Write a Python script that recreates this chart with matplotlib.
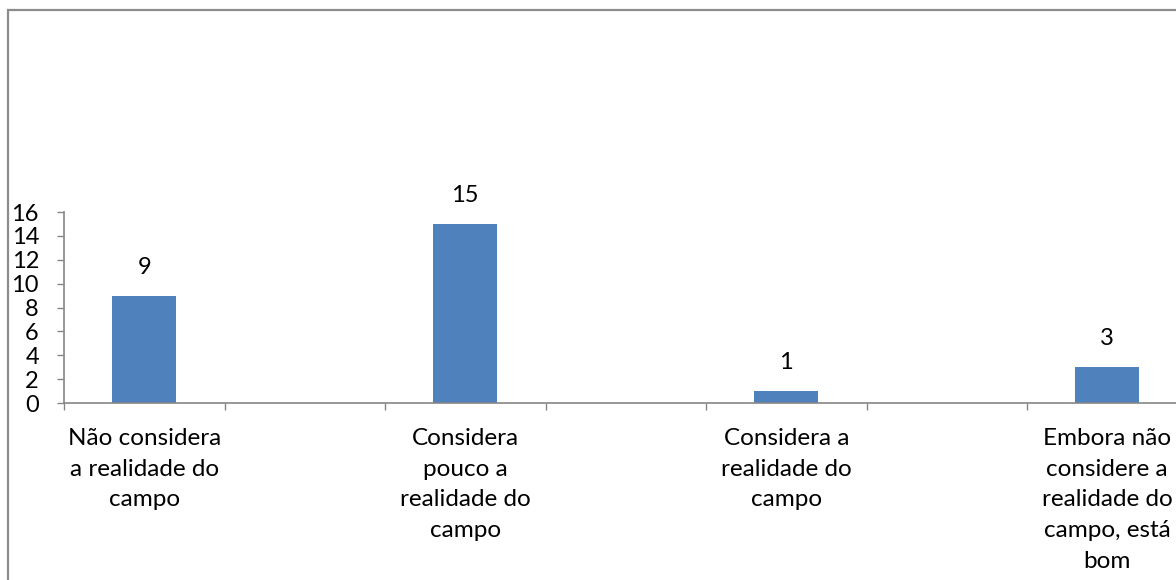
import matplotlib.pyplot as plt
from matplotlib.patches import Rectangle

# dados (categorias intercaladas com posições vazias, como no original)
categorias = ["Não considera\na realidade do\ncampo", "",
              "Considera\npouco a\nrealidade do\ncampo", "",
              "Considera a\nrealidade do\ncampo", "",
              "Embora não\nconsidere a\nrealidade do\ncampo, está\nbom", ""]
valores = [9, 0, 15, 0, 1, 0, 3, 0]
rotulos = ["9", "", "15", "", "1", "", "3", ""]

plt.rcParams['font.family'] = ['Lato', 'DejaVu Sans']

fig = plt.figure(figsize=(11.76, 5.8), dpi=100)
# eixo mais largo que a figura (cortado à direita, como no original)
ax = fig.add_axes([64 / 1176, 1 - 403 / 580, (8 * 160.5) / 1176, (403 - 212) / 580])

x = list(range(len(categorias)))
barras = ax.bar(x, valores, width=0.4, color='#4F81BD', zorder=2)
for b, v, r in zip(barras, valores, rotulos):
    if r:
        ax.text(b.get_x() + b.get_width() / 2, v + 1.5, r, ha='center', va='bottom',
                fontsize=17, color='black')

ax.set_xlim(-0.5, len(categorias) - 0.5)
ax.set_ylim(0, 16)
ax.set_yticks(range(0, 17, 2))
ax.tick_params(axis='y', labelsize=17, length=5, width=1, color='#868686', pad=13)

ax.set_xticks([i - 0.5 for i in range(len(categorias) + 1)])
ax.set_xticklabels([])
ax.tick_params(axis='x', length=5, width=1, color='#868686')
for i, c in enumerate(categorias):
    if c:
        ax.text(i, -2.1, c, ha='center', va='top', fontsize=17.5, linespacing=1.57,
                clip_on=False)

for s in ['top', 'right']:
    ax.spines[s].set_visible(False)
for s in ['left', 'bottom']:
    ax.spines[s].set_color('#868686')
    ax.spines[s].set_linewidth(1.2)

fig.patches.append(Rectangle((8 / 1176, -0.1), 1.2, 1 - 10 / 580 + 0.1,
                             transform=fig.transFigure, fill=False,
                             edgecolor='#8c8c8c', linewidth=1.6))

fig.savefig('out.png', dpi=100)
